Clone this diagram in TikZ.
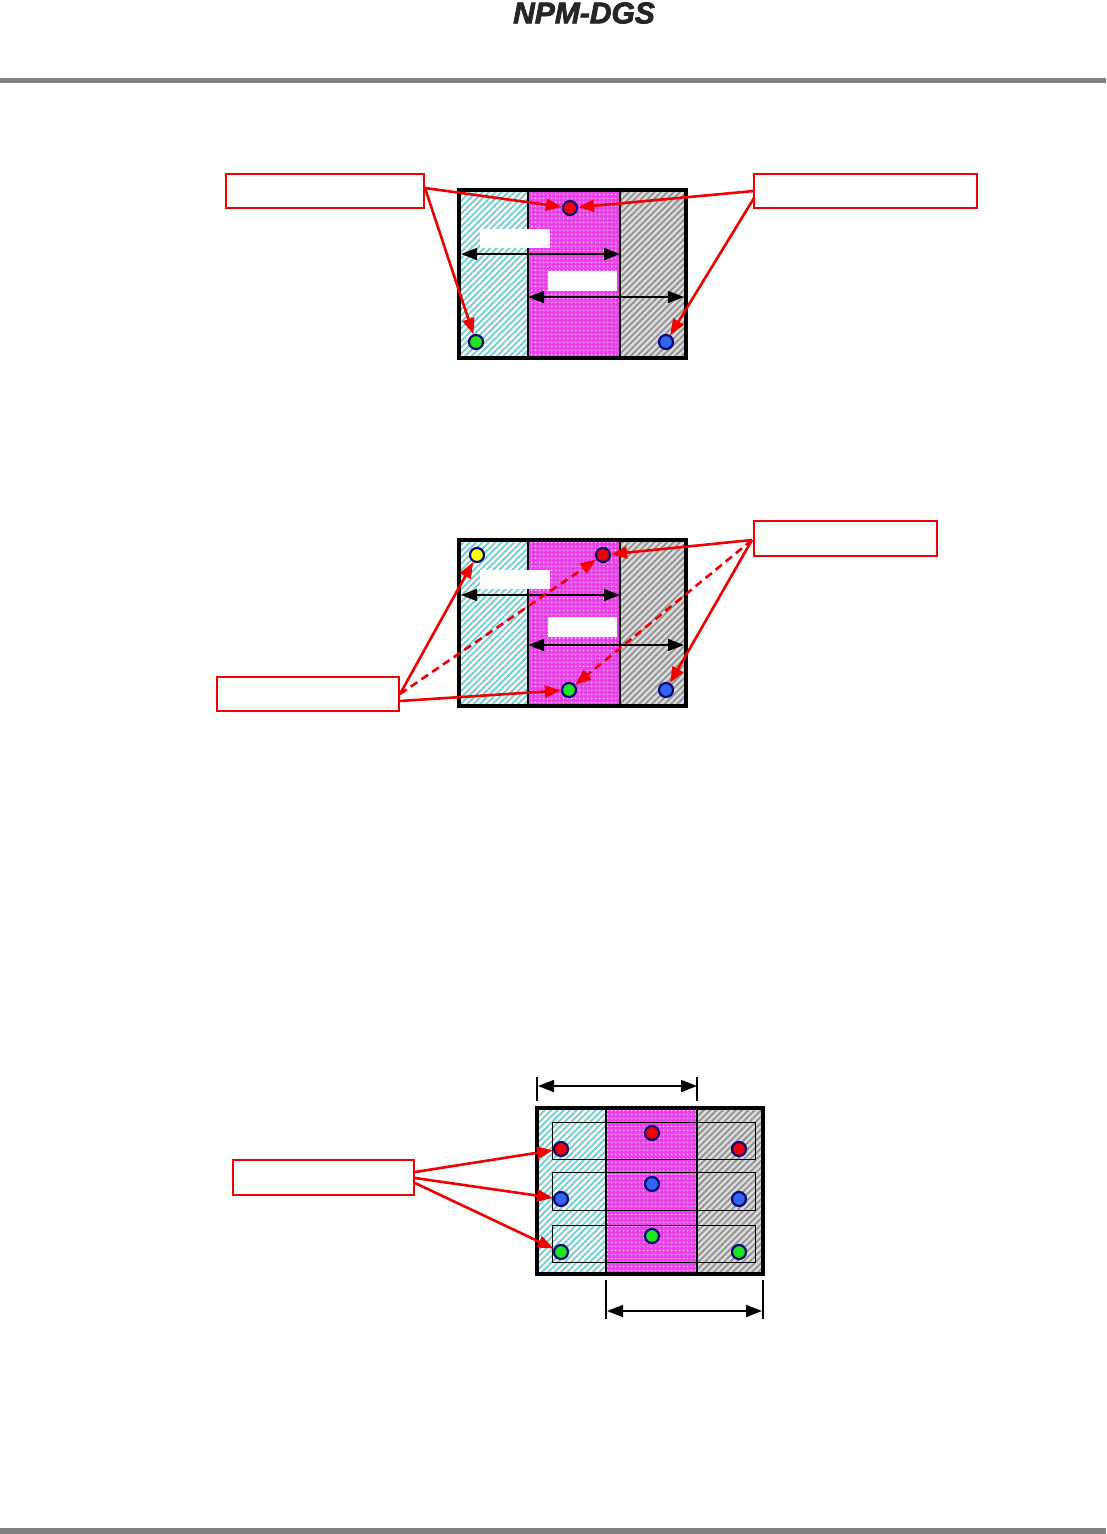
\documentclass[tikz,border=0pt]{standalone}
\usepackage{fontspec}
\setmainfont{Liberation Sans}
\newfontfamily\titlefont[BoldItalicFeatures={FakeBold=2.5}]{Liberation Sans}
\usetikzlibrary{arrows.meta,patterns.meta}
\definecolor{cyanh}{RGB}{110,205,210}
\definecolor{grayb}{RGB}{220,220,220}
\definecolor{grayh}{RGB}{145,145,145}
\definecolor{magb}{RGB}{238,60,238}
\definecolor{navy}{RGB}{10,10,120}
\definecolor{dred}{RGB}{240,0,0}
\definecolor{dgreen}{RGB}{30,230,30}
\definecolor{dblue}{RGB}{50,100,240}
\definecolor{dyellow}{RGB}{255,255,0}
\definecolor{barg}{RGB}{128,128,128}
\tikzset{
  cyancol/.style={fill=white,postaction={pattern={Lines[angle=45,distance=4.5pt,line width=1.8pt]},pattern color=cyanh}},
  graycol/.style={fill=grayb,postaction={pattern={Lines[angle=45,distance=4.5pt,line width=1.8pt]},pattern color=grayh}},
  magcol/.style={fill=magb,postaction={pattern={Dots[distance=4pt,radius=1.1pt]},pattern color=white!85!magenta}},
  frame/.style={draw=black,line width=3.4pt},
  dot/.style={circle,draw=navy,line width=2.2pt,minimum size=14pt,inner sep=0pt},
  redbox/.style={draw=dred,line width=2.4pt,fill=white,inner sep=0pt},
  redarrow/.style={draw=dred,line width=2.6pt,-{Triangle[length=16pt,width=12pt]}},
  reddash/.style={redarrow,dash pattern=on 8pt off 5pt},
  dimarrow/.style={draw=black,line width=1.7pt,{Triangle[length=16pt,width=12pt]}-{Triangle[length=16pt,width=12pt]}},
  whitebox/.style={fill=white,draw=none,inner sep=0pt},
  rowbox/.style={draw=black,line width=1pt},
  extline/.style={draw=black,line width=1.2pt}
}
\begin{document}
\begin{tikzpicture}[x=1pt,y=-1pt]
\useasboundingbox (0,0) rectangle (1106,1534);
% header
\node[font=\titlefont\fontsize{30}{32}\selectfont\bfseries\itshape,text=black!85,inner sep=0pt] (title) at (584,13) {NPM-DGS};
\fill[barg] (0,78) rectangle (1106,83);
\fill[barg] (0,1528) rectangle (1106,1534);

% ================= Panel 1 =================
\path[cyancol] (459,190) rectangle (528,358);
\path[magcol] (528,190) rectangle (620,358);
\path[graycol] (620,190) rectangle (686,358);
\draw[line width=2.2pt] (528,190) -- (528,358);
\draw[line width=1.1pt] (620,190) -- (620,358);
\draw[frame] (459,190) rectangle (686,358);
\node[whitebox,minimum width=70pt,minimum height=19pt] (w1a) at (515,238.5) {};
\node[whitebox,minimum width=69pt,minimum height=20pt] (w1b) at (582.5,281) {};
\coordinate (a1l) at (461,254); \coordinate (a1r) at (620,254);
\draw[dimarrow] (a1l) -- (a1r);
\coordinate (b1l) at (528,297); \coordinate (b1r) at (684,297);
\draw[dimarrow] (b1l) -- (b1r);
\node[dot,fill=dred] (d1r) at (570,208) {};
\node[dot,fill=dgreen] (d1g) at (476,342) {};
\node[dot,fill=dblue] (d1b) at (666,342) {};
\node[redbox,minimum width=198pt,minimum height=34pt] (lb1) at (325,191) {};
\node[redbox,minimum width=223pt,minimum height=34pt] (rb1) at (865.5,191) {};
\coordinate (lb1o) at (425,188);
\coordinate (rb1o) at (754,191);
\coordinate (rb1p) at (754,198);
\draw[redarrow] (lb1o) -- (d1r);
\draw[redarrow] (lb1o) -- (d1g);
\draw[redarrow] (rb1o) -- (d1r);
\draw[redarrow] (rb1p) -- (d1b);

% ================= Panel 2 =================
\path[cyancol] (459,540) rectangle (528,706);
\path[magcol] (528,540) rectangle (620,706);
\path[graycol] (620,540) rectangle (686,706);
\draw[line width=2.2pt] (528,540) -- (528,706);
\draw[line width=1.1pt] (620,540) -- (620,706);
\draw[frame] (459,540) rectangle (686,706);
\node[whitebox,minimum width=70pt,minimum height=19pt] (w2a) at (515,579.5) {};
\node[whitebox,minimum width=69pt,minimum height=20pt] (w2b) at (582.5,627) {};
\coordinate (a2l) at (461,595); \coordinate (a2r) at (620,595);
\draw[dimarrow] (a2l) -- (a2r);
\coordinate (b2l) at (528,645); \coordinate (b2r) at (684,645);
\draw[dimarrow] (b2l) -- (b2r);
\node[dot,fill=dyellow] (d2y) at (477,555) {};
\node[dot,fill=dred] (d2r) at (603,555) {};
\node[dot,fill=dgreen] (d2g) at (569,690) {};
\node[dot,fill=dblue] (d2b) at (666,690) {};
\node[redbox,minimum width=183pt,minimum height=35pt] (rb2) at (845.5,538.5) {};
\node[redbox,minimum width=182pt,minimum height=34pt] (lb2) at (308,694) {};
\coordinate (rb2o) at (752,540);
\coordinate (lb2o) at (400,694);
\coordinate (lb2p) at (400,701);
\draw[redarrow] (rb2o) -- (d2r);
\draw[reddash] (rb2o) -- (d2g);
\draw[redarrow] (rb2o) -- (d2b);
\draw[redarrow] (lb2o) -- (d2y);
\draw[reddash] (lb2o) -- (d2r);
\draw[redarrow] (lb2p) -- (d2g);

% ================= Panel 3 =================
\path[cyancol] (537,1108) rectangle (606,1274);
\path[magcol] (606,1108) rectangle (697,1274);
\path[graycol] (697,1108) rectangle (763,1274);
\draw[rowbox] (552,1122) rectangle (755,1159);
\draw[rowbox] (552,1172) rectangle (755,1210);
\draw[rowbox] (552,1225) rectangle (755,1262);
\draw[line width=1.1pt] (606,1108) -- (606,1274);
\draw[line width=2.2pt] (697,1108) -- (697,1274);
\draw[frame] (537,1108) rectangle (763,1274);
\coordinate (e1a) at (537,1077); \coordinate (e1b) at (537,1101);
\coordinate (e2a) at (697,1077); \coordinate (e2b) at (697,1101);
\draw[extline] (e1a) -- (e1b);
\draw[extline] (e2a) -- (e2b);
\coordinate (c3l) at (538,1086); \coordinate (c3r) at (697,1086);
\draw[dimarrow] (c3l) -- (c3r);
\coordinate (e3a) at (606,1280); \coordinate (e3b) at (606,1319);
\coordinate (e4a) at (763,1280); \coordinate (e4b) at (763,1319);
\draw[extline] (e3a) -- (e3b);
\draw[extline] (e4a) -- (e4b);
\coordinate (f3l) at (607,1311); \coordinate (f3r) at (762,1311);
\draw[dimarrow] (f3l) -- (f3r);
\node[dot,fill=dred] (d3r1) at (561,1149) {};
\node[dot,fill=dred] (d3r2) at (652,1133) {};
\node[dot,fill=dred] (d3r3) at (739,1149) {};
\node[dot,fill=dblue] (d3b1) at (561,1199) {};
\node[dot,fill=dblue] (d3b2) at (652,1184) {};
\node[dot,fill=dblue] (d3b3) at (739,1199) {};
\node[dot,fill=dgreen] (d3g1) at (561,1252) {};
\node[dot,fill=dgreen] (d3g2) at (652,1236) {};
\node[dot,fill=dgreen] (d3g3) at (739,1252) {};
\node[redbox,minimum width=181pt,minimum height=35pt] (lb3) at (323.5,1177.5) {};
\coordinate (lb3o) at (415,1172);
\coordinate (lb3p) at (415,1178);
\coordinate (lb3q) at (415,1183);
\draw[redarrow] (lb3o) -- (d3r1);
\draw[redarrow] (lb3p) -- (d3b1);
\draw[redarrow] (lb3q) -- (d3g1);
\end{tikzpicture}
\end{document}
